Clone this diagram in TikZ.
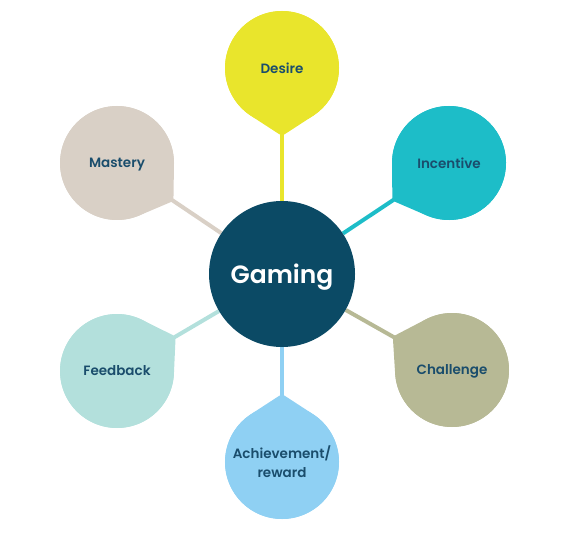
\documentclass[tikz,border=0pt]{standalone}
\usepackage{fontspec}
\setmainfont{Poppins}[UprightFont=* SemiBold]
\usetikzlibrary{calc,backgrounds}
\definecolor{cDesire}{HTML}{E9E52C}
\definecolor{cIncentive}{HTML}{1DBDC8}
\definecolor{cChallenge}{HTML}{B7B995}
\definecolor{cAchieve}{HTML}{8FD0F3}
\definecolor{cFeedback}{HTML}{B3E0DC}
\definecolor{cMastery}{HTML}{D9D0C6}
\definecolor{cCenter}{HTML}{0B4A65}
\definecolor{cText}{HTML}{1A4D6C}
\begin{document}
\begin{tikzpicture}[x=1pt,y=1pt,
  sat/.style={circle,inner sep=0pt,minimum size=114pt,text=cText,font=\fontsize{13.5}{19}\selectfont,align=center,text depth=0pt},
  hub/.style={circle,inner sep=0pt,minimum size=146pt,fill=cCenter,text=white,font=\fontsize{25}{30}\selectfont,text depth=0pt},
  link/.style={line width=4pt}]
\useasboundingbox (0,0) rectangle (561,544);
\node[hub] (C) at (282,270) {Gaming};
\node[sat,fill=cDesire] (D) at (282,476) {Desire};
\node[sat,fill=cIncentive] (I) at (449,381) {Incentive};
\node[sat,fill=cChallenge] (H) at (452,174) {Challenge};
\node[sat,fill=cAchieve] (A) at (282,82) {Achievement/\\reward};
\node[sat,fill=cFeedback] (F) at (117,173) {Feedback};
\node[sat,fill=cMastery] (M) at (117,381) {Mastery};
\begin{scope}[on background layer]
\foreach \s/\c in {D/cDesire,I/cIncentive,H/cChallenge,A/cAchieve,F/cFeedback,M/cMastery}{
  \draw[link,\c] (\s) -- (C);
  \fill[\c] let \p1=($(C)-(\s)$), \n1={atan2(\y1,\x1)} in
    ($(\s)+(\n1+34:57)$) arc[start angle=\n1+34, end angle=\n1+326, radius=57]
    [rounded corners=3pt] -- ($(\s)+(\n1:68)$) [sharp corners] -- cycle;
}
\end{scope}
\end{tikzpicture}
\end{document}
